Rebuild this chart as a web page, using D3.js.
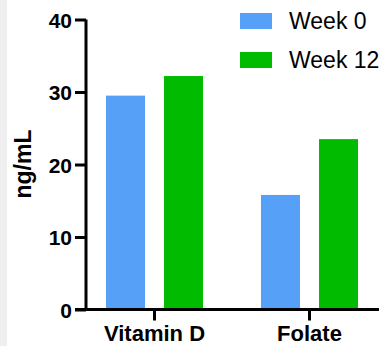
<!DOCTYPE html>
<html>
<head>
<meta charset="utf-8">
<script src="https://cdn.jsdelivr.net/npm/d3@7"></script>
<style>
  body { margin: 0; background: #fff; }
  svg { display: block; font-family: "Liberation Sans", Arial, sans-serif; }
</style>
</head>
<body>
<div id="chart"></div>
<script>
// data
const categories = ["Vitamin D", "Folate"];
const seriesNames = ["Week 0", "Week 12"];
const week0 = [29.5, 15.8];
const week12 = [32.2, 23.5];
const yTicks = [0, 10, 20, 30, 40];

const colors = ["#56a0f8", "#00bb00"];

const width = 386, height = 346;
const margin = { top: 19.5, right: 7, bottom: 36.5, left: 86 };

const svg = d3.select("#chart").append("svg")
    .attr("width", width)
    .attr("height", height);

// grey strip at the left edge
svg.append("rect")
    .attr("x", 0).attr("y", 0)
    .attr("width", 7).attr("height", height)
    .attr("fill", "#efefef");

const plot = svg.append("g")
    .attr("transform", `translate(${margin.left},${margin.top})`);

const innerW = width - margin.left - margin.right;
const innerH = height - margin.top - margin.bottom;

const y = d3.scaleLinear().domain([0, 40]).range([innerH, 0]);
const x0 = d3.scaleBand().domain(categories).range([0, 292]).paddingInner(0.374).paddingOuter(0.129);
const x1 = d3.scaleBand().domain(seriesNames).range([0, x0.bandwidth()]).paddingInner(0.328);

const rows = categories.map((c, i) => ({ cat: c, values: [week0[i], week12[i]] }));

const groups = plot.selectAll("g.grp")
    .data(rows)
    .enter().append("g")
    .attr("class", "grp")
    .attr("transform", d => `translate(${x0(d.cat)},0)`);

groups.selectAll("rect")
    .data(d => d.values.map((v, j) => ({ key: seriesNames[j], v: v, j: j })))
    .enter().append("rect")
    .attr("x", d => x1(d.key))
    .attr("y", d => y(d.v))
    .attr("width", x1.bandwidth())
    .attr("height", d => innerH - y(d.v))
    .attr("fill", d => colors[d.j]);

// y axis
const yAxis = plot.append("g")
    .call(d3.axisLeft(y).tickValues(yTicks).tickSize(11).tickPadding(3));
yAxis.select(".domain").attr("stroke", "#000").attr("stroke-width", 3)
    .attr("d", `M0,${y(40)}V${innerH}`);
yAxis.selectAll(".tick line").attr("stroke-width", 3);
yAxis.selectAll("text").style("font-size", "21px").style("font-weight", "bold")
    .attr("dy", "0.36em").attr("fill", "#000");

// x axis
const xAxis = plot.append("g")
    .attr("transform", `translate(0,${innerH})`)
    .call(d3.axisBottom(x0).tickSize(11).tickPadding(5));
xAxis.select(".domain").attr("stroke-width", 3)
    .attr("d", `M-11,0H${innerW}`);
xAxis.selectAll(".tick line").attr("stroke-width", 3);
xAxis.selectAll("text").style("font-size", "22px").style("font-weight", "bold")
    .attr("fill", "#000");

// y label
svg.append("text")
    .attr("transform", `translate(31,${164}) rotate(-90)`)
    .attr("text-anchor", "middle")
    .style("font-size", "23px")
    .style("font-weight", "bold")
    .text("ng/mL");

// legend
const legend = svg.append("g").attr("transform", "translate(240,13)");
seriesNames.forEach((s, i) => {
    const g = legend.append("g").attr("transform", `translate(0,${i * 39})`);
    g.append("rect").attr("width", 32).attr("height", 16).attr("fill", colors[i]);
    g.append("text").attr("x", 49).attr("y", 16)
        .style("font-size", "23px")
        .text(s);
});
</script>
</body>
</html>
